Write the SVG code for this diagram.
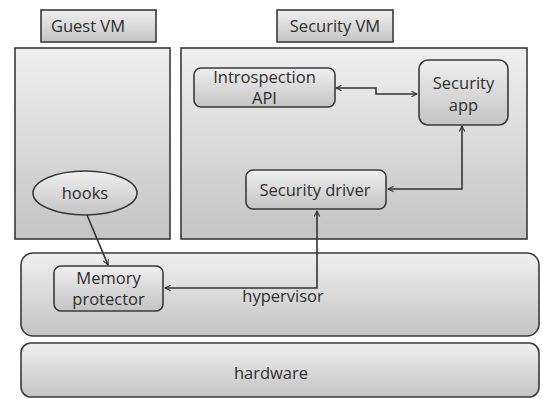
<svg xmlns="http://www.w3.org/2000/svg" width="543" height="399" viewBox="0 0 543 399">
<defs>
<linearGradient id="g" x1="0" y1="0" x2="0" y2="1">
<stop offset="0" stop-color="#efefef"/>
<stop offset="1" stop-color="#c4c4c4"/>
</linearGradient>
<marker id="ah" viewBox="0 0 10 10" refX="9" refY="5" markerWidth="7" markerHeight="7" orient="auto-start-reverse" markerUnits="userSpaceOnUse">
<path d="M1,1 L9,5 L1,9" fill="none" stroke="#333" stroke-width="1.5"/>
</marker>
</defs>
<style>
.box{fill:url(#g);stroke:#3a3a3a;stroke-width:1.6}
.t{font-family:"Open Sans","Liberation Sans",sans-serif;font-size:16.5px;fill:#2e2e2e;text-anchor:middle}
.c{fill:none;stroke:#333;stroke-width:1.6}
</style>
<rect width="543" height="399" fill="#fff"/>
<g id="guest-vm-label"><rect class="box" x="41" y="10" width="115" height="32"/><text class="t" x="88" y="32">Guest VM</text></g>
<g id="security-vm-label"><rect class="box" x="277" y="10" width="116" height="32"/><text class="t" x="335" y="32">Security VM</text></g>
<g id="guest-vm"><rect class="box" x="15" y="48" width="155" height="191"/></g>
<g id="security-vm"><rect class="box" x="181" y="48" width="346" height="191"/></g>
<g id="hypervisor"><rect class="box" x="21" y="253" width="518" height="83" rx="12"/><text class="t" x="283" y="302">hypervisor</text></g>
<g id="hardware"><rect class="box" x="21" y="343" width="518" height="54" rx="10"/><text class="t" x="271" y="379">hardware</text></g>
<g id="introspection-api"><rect class="box" x="194" y="68" width="141" height="39" rx="7"/><text class="t" x="264.5" y="83">Introspection</text><text class="t" x="264.5" y="104">API</text></g>
<g id="security-app"><rect class="box" x="419" y="60" width="89" height="65" rx="9"/><text class="t" x="463.5" y="89">Security</text><text class="t" x="463.5" y="111">app</text></g>
<g id="security-driver"><rect class="box" x="246" y="170" width="140" height="39" rx="7"/><text class="t" x="315" y="196">Security driver</text></g>
<g id="hooks"><ellipse class="box" cx="85" cy="193" rx="52" ry="22"/><text class="t" x="85" y="199">hooks</text></g>
<g id="memory-protector"><rect class="box" x="54" y="266" width="109" height="45" rx="7"/><text class="t" x="108.5" y="284">Memory</text><text class="t" x="108.5" y="305">protector</text></g>
<g id="connectors">
<path class="c" d="M336,88 H376 V94 H417" marker-start="url(#ah)" marker-end="url(#ah)"/>
<path class="c" d="M462,126 V189 H388" marker-start="url(#ah)" marker-end="url(#ah)"/>
<path class="c" d="M317,211 V288 H165" marker-start="url(#ah)" marker-end="url(#ah)"/>
<path class="c" d="M87,215 L108,265" marker-end="url(#ah)"/>
</g>
</svg>
